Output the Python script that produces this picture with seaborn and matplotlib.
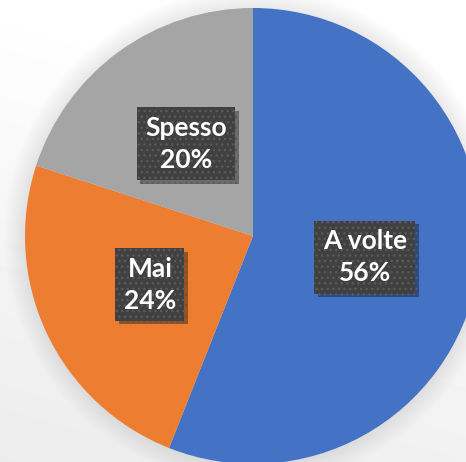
import numpy as np
import matplotlib.pyplot as plt
import matplotlib.patheffects as pe
from matplotlib.patches import Circle
import seaborn as sns

# data
categories = ['A volte', 'Mai', 'Spesso']
shares = [56, 24, 20]
slice_colors = ['#4472C4', '#ED7D31', '#A5A5A5']

sns.set_theme(style='white')
plt.rcParams['font.family'] = ['Lato', 'DejaVu Sans']

W, H = 466, 462
pie_center = (253, 226)
pie_radius = 228

fig = plt.figure(figsize=(W / 100, H / 100), dpi=100)
ax = fig.add_axes([0, 0, 1, 1])

# soft light-grey background, white towards the top
yy, xx = np.mgrid[0:H, 0:W]
shade = 0.925 + 0.075 * (yy / (H - 1)) + 0.02 * (xx / (W - 1))
shade = np.clip(shade, 0, 1)
ax.imshow(shade, cmap='gray', vmin=0, vmax=1, origin='lower',
          extent=(0, W, 0, H), interpolation='bilinear')

# glow/shadow around the pie
for i in range(22):
    ax.add_patch(Circle(pie_center, pie_radius + i, color='black',
                        alpha=0.0055, lw=0))

labels = [f'{c}\n{v}%' for c, v in zip(categories, shares)]
wedges, texts = ax.pie(shares, labels=labels, colors=slice_colors,
                       startangle=90, counterclock=False,
                       center=pie_center, radius=pie_radius,
                       labeldistance=0.5,
                       wedgeprops=dict(linewidth=0))

for t in texts:
    t.set_ha('center')
    t.set_va('center')
    t.set_fontsize(19)
    t.set_fontweight('bold')
    t.set_color('white')
    t.set_linespacing(1.4)
    t.set_bbox(dict(boxstyle='square,pad=0.32', fc='#404040', ec='#5a5a5a',
                    hatch='...', lw=0))
    t.get_bbox_patch().set_path_effects(
        [pe.withSimplePatchShadow(offset=(2.5, -2.5), shadow_rgbFace='black', alpha=0.35)])

ax.set_xlim(0, W)
ax.set_ylim(0, H)
ax.set_aspect('equal')
ax.axis('off')

fig.savefig('out.png', dpi=100)
